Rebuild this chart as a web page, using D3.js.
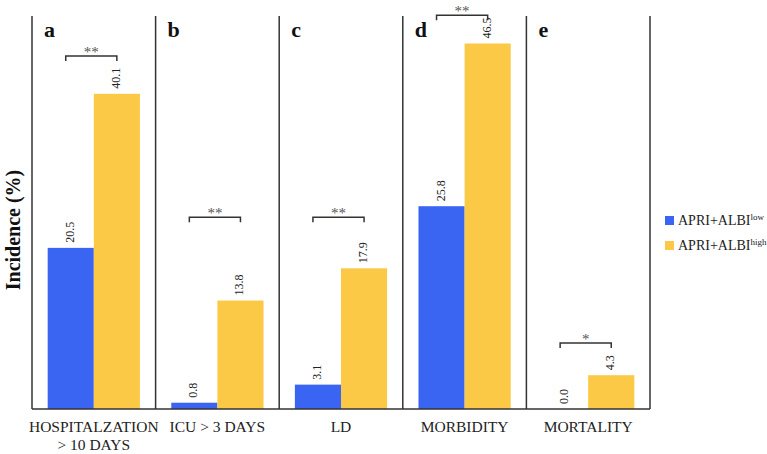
<!DOCTYPE html>
<html><head><meta charset="utf-8">
<script src="https://cdn.jsdelivr.net/npm/d3@7"></script>
<style>body{margin:0;background:#fff;}</style>
</head><body>
<script>
const categories = ["HOSPITALZATION\n> 10 DAYS", "ICU > 3 DAYS", "LD", "MORBIDITY", "MORTALITY"];
const panelLetters = ["a", "b", "c", "d", "e"];
const lowValues = [20.5, 0.8, 3.1, 25.8, 0.0];
const highValues = [40.1, 13.8, 17.9, 46.5, 4.3];
const sigLabels = ["**", "**", "**", "**", "*"];
const sigLevels = [44.9, 24.4, 24.4, 50.1, 8.4];
const seriesNames = ["low", "high"];
const colors = {low: "#3A64F2", high: "#FBC945"};

const FONT = "'Liberation Serif'";
const W = 767, H = 454;
const svg = d3.select("body").append("svg").attr("width", W).attr("height", H)
  .style("display", "block");

const x0 = d3.scaleBand().domain(categories).range([32, 650]).padding(0);
const x1 = d3.scaleBand().domain(seriesNames).range([0, x0.bandwidth()]).paddingInner(0).paddingOuter(0.34);
const y = d3.scaleLinear().domain([0, 50]).range([409, 16]);

const data = categories.map((c, i) => ({cat: c, i, low: lowValues[i], high: highValues[i]}));

// panel separators
const bounds = categories.map(c => x0(c)).concat([x0.range()[1]]);
svg.selectAll("line.sep").data(bounds).join("line")
  .attr("x1", d => d).attr("x2", d => d)
  .attr("y1", y(50)).attr("y2", y(0))
  .attr("stroke", "#333").attr("stroke-width", 1.5);

// bars
const g = svg.selectAll("g.panel").data(data).join("g")
  .attr("transform", d => `translate(${x0(d.cat)},0)`);

g.selectAll("rect").data(d => seriesNames.map(s => ({s, v: d[s]}))).join("rect")
  .attr("x", d => x1(d.s)).attr("width", x1.bandwidth())
  .attr("y", d => y(d.v)).attr("height", d => y(0) - y(d.v))
  .attr("fill", d => colors[d.s]);

g.selectAll("text.val").data(d => seriesNames.map(s => ({s, v: d[s]}))).join("text")
  .attr("class", "val")
  .attr("transform", d => `translate(${x1(d.s) + x1.bandwidth()/2 + 3},${y(d.v) - 5}) rotate(-90)`)
  .style("font-family", FONT).attr("font-size", 12).attr("fill", "#222")
  .text(d => d.v.toFixed(1));

// panel letters
g.append("text").attr("x", 12).attr("y", 37)
  .style("font-family", FONT).attr("font-size", 22).attr("font-weight", "bold").attr("fill", "#111")
  .text(d => panelLetters[d.i]);

// significance brackets
g.each(function(d) {
  const sel = d3.select(this);
  const xa = x1("low") + x1.bandwidth()/2 - 5;
  const xb = x1("high") + x1.bandwidth()/2;
  const yy = y(sigLevels[d.i]);
  sel.append("path")
    .attr("d", `M${xa},${yy+5}V${yy}H${xb}V${yy+5}`)
    .attr("fill", "none").attr("stroke", "#333").attr("stroke-width", 1.5);
  sel.append("text").attr("x", (xa + xb)/2).attr("y", yy + 1)
    .attr("text-anchor", "middle").style("font-family", FONT).attr("font-size", 15).attr("fill", "#555")
    .text(sigLabels[d.i]);
});

// baseline
svg.append("line").attr("x1", 32).attr("x2", 650).attr("y1", y(0)).attr("y2", y(0))
  .attr("stroke", "#333").attr("stroke-width", 1.5);

// x labels
g.append("text").attr("x", x0.bandwidth()/2).attr("y", 432)
  .attr("text-anchor", "middle").style("font-family", FONT).attr("font-size", 15.5).attr("fill", "#222")
  .each(function(d) {
    const lines = d.cat.split("\n");
    const t = d3.select(this);
    lines.forEach((l, k) => t.append("tspan").attr("x", x0.bandwidth()/2).attr("dy", k === 0 ? 0 : 18).text(l));
  });

// y title
svg.append("text").attr("transform", `translate(20,230) rotate(-90)`)
  .attr("text-anchor", "middle").style("font-family", FONT).attr("font-size", 20).attr("font-weight", "bold").attr("fill", "#111")
  .text("Incidence (%)");

// legend
const leg = svg.append("g").attr("transform", "translate(665,216)");
seriesNames.forEach((s, k) => {
  const row = leg.append("g").attr("transform", `translate(0,${k*25})`);
  row.append("rect").attr("width", 9).attr("height", 9).attr("fill", colors[s]);
  const t = row.append("text").attr("x", 13).attr("y", 8.5).style("font-family", FONT).attr("font-size", 14).attr("fill", "#222");
  t.append("tspan").text("APRI+ALBI");
  t.append("tspan").attr("font-size", 9).attr("dy", -5).text(s);
});
</script>
</body></html>
